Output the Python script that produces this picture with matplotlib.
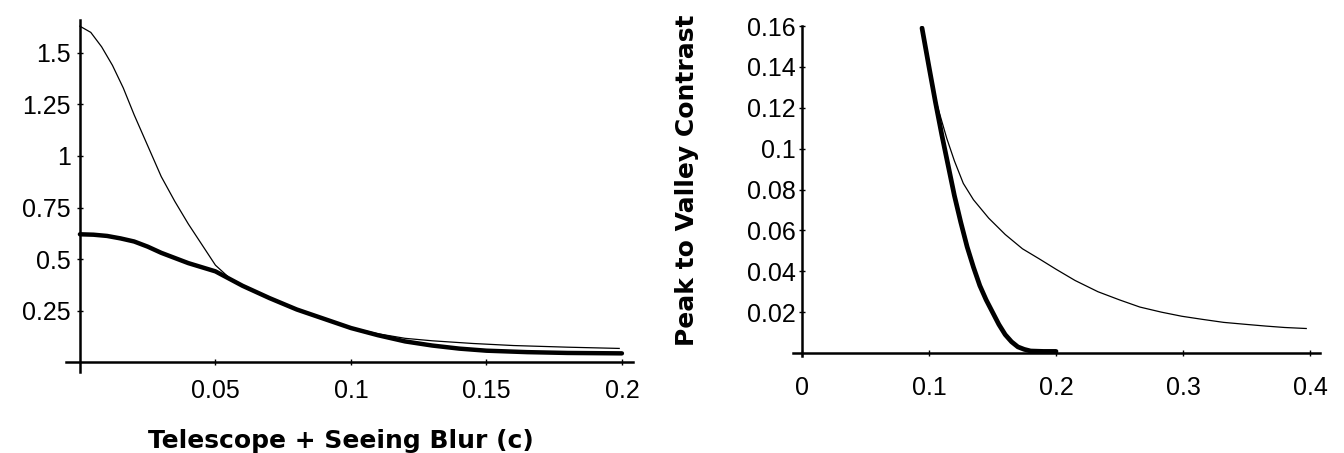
import matplotlib
matplotlib.use("Agg")
import matplotlib.pyplot as plt
from matplotlib import font_manager

# ---------------- data ----------------
blur_thin_x = [0, 0.004, 0.008, 0.012, 0.016, 0.020, 0.025, 0.030, 0.035, 0.040, 0.045,
               0.050, 0.055, 0.060, 0.070, 0.080, 0.090, 0.100, 0.110, 0.120, 0.130,
               0.145, 0.160, 0.180, 0.199]
blur_thin_y = [1.63, 1.60, 1.53, 1.44, 1.33, 1.20, 1.05, 0.90, 0.78, 0.67, 0.57,
               0.47, 0.41, 0.37, 0.31, 0.255, 0.21, 0.167, 0.137, 0.115, 0.103,
               0.09, 0.08, 0.072, 0.066]
blur_bold_x = [0, 0.005, 0.010, 0.015, 0.020, 0.025, 0.030, 0.040, 0.050, 0.060, 0.070,
               0.080, 0.090, 0.100, 0.110, 0.120, 0.130, 0.140, 0.150, 0.165, 0.180, 0.200]
blur_bold_y = [0.62, 0.618, 0.612, 0.60, 0.585, 0.56, 0.53, 0.48, 0.44, 0.37, 0.31,
               0.255, 0.21, 0.165, 0.13, 0.10, 0.08, 0.065, 0.055, 0.048, 0.044, 0.042]

pv_bold_x = [0.0945, 0.100, 0.105, 0.110, 0.115, 0.120, 0.125, 0.130, 0.135, 0.140,
             0.145, 0.150, 0.155, 0.160, 0.165, 0.170, 0.175, 0.180, 0.190, 0.200]
pv_bold_y = [0.159, 0.14, 0.123, 0.107, 0.092, 0.077, 0.064, 0.052, 0.042, 0.033,
             0.026, 0.020, 0.014, 0.009, 0.0055, 0.003, 0.0018, 0.001, 0.0008, 0.0008]
pv_thin_x = [0.0945, 0.098, 0.102, 0.107, 0.114, 0.120, 0.127, 0.135, 0.147, 0.160,
             0.1736, 0.187, 0.200, 0.215, 0.233, 0.250, 0.266, 0.283, 0.299, 0.315,
             0.332, 0.350, 0.365, 0.380, 0.397]
pv_thin_y = [0.159, 0.145, 0.132, 0.120, 0.105, 0.094, 0.083, 0.075, 0.066, 0.058,
             0.051, 0.046, 0.041, 0.0355, 0.030, 0.026, 0.0225, 0.020, 0.018, 0.0165,
             0.015, 0.014, 0.0132, 0.0125, 0.012]

left_xticks = [0.05, 0.1, 0.15, 0.2]
left_xticklabels = ["0.05", "0.1", "0.15", "0.2"]
left_yticks = [0.25, 0.5, 0.75, 1.0, 1.25, 1.5]
left_yticklabels = ["0.25", "0.5", "0.75", "1", "1.25", "1.5"]
right_xticks = [0, 0.1, 0.2, 0.3, 0.4]
right_xticklabels = ["0", "0.1", "0.2", "0.3", "0.4"]
right_yticks = [0.02, 0.04, 0.06, 0.08, 0.10, 0.12, 0.14, 0.16]
right_yticklabels = ["0.02", "0.04", "0.06", "0.08", "0.1", "0.12", "0.14", "0.16"]

xlabel_left = "Telescope + Seeing Blur (c)"
ylabel_right = "Peak to Valley Contrast"

# ---------------- style ----------------
names = {f.name for f in font_manager.fontManager.ttflist}
tick_family = "Liberation Sans Narrow" if "Liberation Sans Narrow" in names else "Liberation Sans"

fig = plt.figure(figsize=(13.44, 4.53), dpi=100)
ax1 = fig.add_axes([0.0494, 0.1781, 0.4214, 0.7777])
ax2 = fig.add_axes([0.5901, 0.2139, 0.3922, 0.7287])

def style(ax, xpad):
    for s in ("top", "right"):
        ax.spines[s].set_visible(False)
    ax.spines["left"].set_position(("data", 0))
    ax.spines["bottom"].set_position(("data", 0))
    for s in ("left", "bottom"):
        ax.spines[s].set_linewidth(1.8)
        ax.spines[s].set_color("black")
    ax.tick_params(axis="both", direction="inout", length=5, width=1.0,
                   labelsize=18, colors="black")
    ax.tick_params(axis="x", pad=xpad)
    for lab in ax.get_xticklabels() + ax.get_yticklabels():
        lab.set_family(tick_family)

ax1.plot(blur_thin_x, blur_thin_y, color="black", lw=0.9)
ax1.plot(blur_bold_x, blur_bold_y, color="black", lw=3.2, solid_capstyle="round")
ax1.set_xlim(-0.005, 0.204)
ax1.set_ylim(-0.05, 1.66)
ax1.set_xticks(left_xticks)
ax1.set_xticklabels(left_xticklabels)
ax1.set_yticks(left_yticks)
ax1.set_yticklabels(left_yticklabels)
ax1.tick_params(axis="y", pad=4)
style(ax1, 10)

ax2.plot(pv_thin_x, pv_thin_y, color="black", lw=0.9)
ax2.plot(pv_bold_x, pv_bold_y, color="black", lw=3.4, solid_capstyle="round")
ax2.set_xlim(-0.007, 0.408)
ax2.set_ylim(-0.0015, 0.1595)
ax2.set_xticks(right_xticks)
ax2.set_xticklabels(right_xticklabels)
ax2.set_yticks(right_yticks)
ax2.set_yticklabels(right_yticklabels)
ax2.tick_params(axis="y", pad=2)
style(ax2, 14)

fig.text(341 / 1344, 1 - 441 / 453, xlabel_left, ha="center", va="center",
         fontsize=18, fontweight="bold", family="DejaVu Sans")
fig.text(687 / 1344, 1 - 180 / 453, ylabel_right, ha="center", va="center",
         rotation=90, fontsize=18, fontweight="bold", family="DejaVu Sans")

fig.savefig("out.png", dpi=100, facecolor="white")
